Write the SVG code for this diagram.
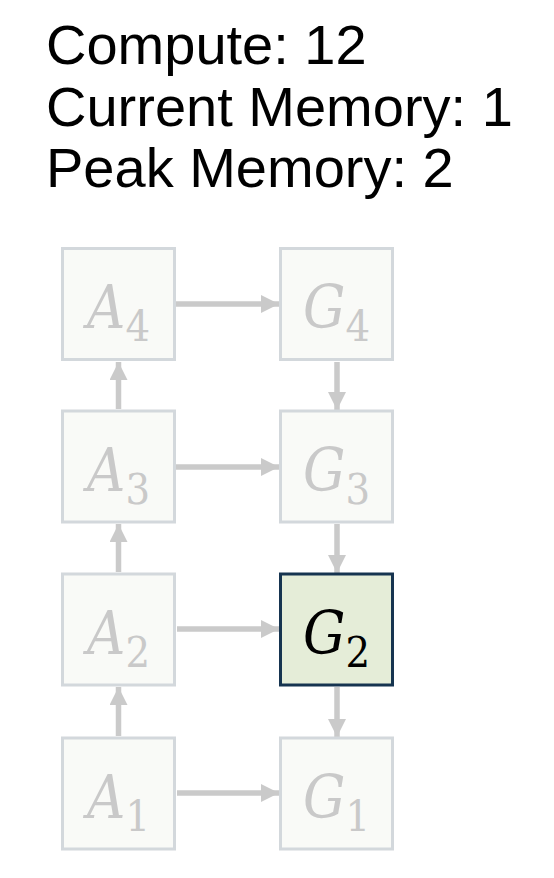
<svg xmlns="http://www.w3.org/2000/svg" width="554" height="878" viewBox="0 0 554 878">
<style>
.hdr{font-family:"Liberation Sans",Arial,sans-serif;font-size:56px;fill:#000}
.box{fill:#f9faf7;stroke:#d3d8dc;stroke-width:3}
.hl{fill:#e5edd8;stroke:#163450;stroke-width:3}
.lbl{font-family:"DejaVu Serif Condensed","DejaVu Serif",serif;font-stretch:condensed;font-size:59px;fill:#c9c9c9;text-anchor:middle}
.lbl.on{fill:#000}
.it{font-style:italic}
.sub{font-size:43px}
.edge{stroke:#cacaca;stroke-width:5.5;fill:none}
</style>
<defs>
<marker id="ah" markerUnits="userSpaceOnUse" markerWidth="20" markerHeight="19" refX="18" refY="9" orient="auto">
<path d="M0,0 L18,9 L0,18 z" fill="#cacaca"/>
</marker>
</defs>
<rect width="554" height="878" fill="#fff"/>
<g id="stats">
<text class="hdr" x="46" y="64">Compute: 12</text>
<text class="hdr" x="46" y="126">Current Memory: 1</text>
<text class="hdr" x="46" y="187">Peak Memory: 2</text>
</g>
<g id="connectors">
<line class="edge" x1="176" y1="304" x2="279" y2="304" marker-end="url(#ah)"/>
<line class="edge" x1="176" y1="467" x2="279" y2="467" marker-end="url(#ah)"/>
<line class="edge" x1="177" y1="629" x2="279" y2="629" marker-end="url(#ah)"/>
<line class="edge" x1="177" y1="793" x2="279" y2="793" marker-end="url(#ah)"/>
<line class="edge" x1="118.5" y1="409" x2="118.5" y2="362" marker-end="url(#ah)"/>
<line class="edge" x1="118.5" y1="572" x2="118.5" y2="524" marker-end="url(#ah)"/>
<line class="edge" x1="118.5" y1="736" x2="118.5" y2="687" marker-end="url(#ah)"/>
<line class="edge" x1="337" y1="362" x2="337" y2="410" marker-end="url(#ah)"/>
<line class="edge" x1="337" y1="524" x2="337" y2="573" marker-end="url(#ah)"/>
<line class="edge" x1="337" y1="687" x2="337" y2="737" marker-end="url(#ah)"/>
</g>
<g id="A4"><rect class="box" x="62.5" y="248.5" width="112" height="111"/><text class="lbl" x="118.5" y="328"><tspan class="it">A</tspan><tspan class="sub" dy="13">4</tspan></text></g>
<g id="A3"><rect class="box" x="62.5" y="411" width="112" height="111"/><text class="lbl" x="118.5" y="491"><tspan class="it">A</tspan><tspan class="sub" dy="13">3</tspan></text></g>
<g id="A2"><rect class="box" x="62.5" y="574" width="112" height="111"/><text class="lbl" x="118.5" y="654"><tspan class="it">A</tspan><tspan class="sub" dy="13">2</tspan></text></g>
<g id="A1"><rect class="box" x="62.5" y="738" width="112" height="111"/><text class="lbl" x="118.5" y="818"><tspan class="it">A</tspan><tspan class="sub" dy="13">1</tspan></text></g>
<g id="G4"><rect class="box" x="280.5" y="248.5" width="112" height="111"/><text class="lbl" x="336.5" y="328"><tspan class="it">G</tspan><tspan class="sub" dy="13">4</tspan></text></g>
<g id="G3"><rect class="box" x="280.5" y="411" width="112" height="111"/><text class="lbl" x="336.5" y="491"><tspan class="it">G</tspan><tspan class="sub" dy="13">3</tspan></text></g>
<g id="G2"><rect class="hl" x="280.5" y="574" width="112" height="111"/><text class="lbl on" x="336.5" y="654"><tspan class="it">G</tspan><tspan class="sub" dy="13">2</tspan></text></g>
<g id="G1"><rect class="box" x="280.5" y="738" width="112" height="111"/><text class="lbl" x="336.5" y="818"><tspan class="it">G</tspan><tspan class="sub" dy="13">1</tspan></text></g>
</svg>
